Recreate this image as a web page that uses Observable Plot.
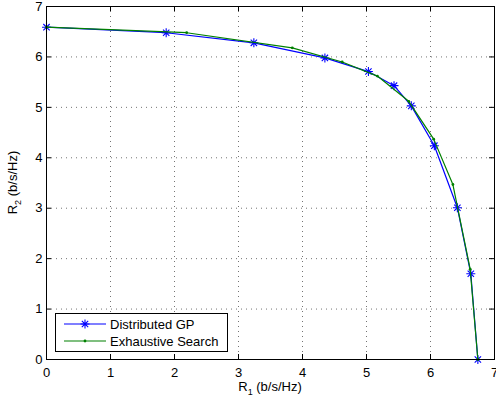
<!DOCTYPE html>
<html>
<head>
<meta charset="utf-8">
<script src="https://cdn.jsdelivr.net/npm/d3@7"></script>
<script src="https://cdn.jsdelivr.net/npm/@observablehq/plot@0.6"></script>
<style>
  html, body { margin: 0; padding: 0; background: #fff; }
  #chart { width: 496px; height: 402px; }
</style>
</head>
<body>
<div id="chart"></div>
<script>
// Distributed GP (blue, asterisks)
const gpR1 = [0, 1.87, 3.24, 4.35, 5.03, 5.43, 5.70, 6.06, 6.42, 6.63, 6.74];
const gpR2 = [6.59, 6.48, 6.28, 5.98, 5.71, 5.43, 5.03, 4.24, 3.01, 1.70, 0];
// Exhaustive Search (green, dots)
const exR1 = [0, 2.19, 3.84, 4.62, 5.17, 5.66, 6.05, 6.35, 6.62, 6.74];
const exR2 = [6.59, 6.48, 6.18, 5.90, 5.62, 5.12, 4.37, 3.47, 1.79, 0];

const xTicks = [0, 1, 2, 3, 4, 5, 6, 7];
const yTicks = [0, 1, 2, 3, 4, 5, 6, 7];
const seriesNames = ["Distributed GP", "Exhaustive Search"];

const gp = gpR1.map((x, i) => ({x, y: gpR2[i]}));
const ex = exR1.map((x, i) => ({x, y: exR2[i]}));

const BLUE = "#0000ff", GREEN = "#008000";

// 8-arm asterisk like MATLAB '*'
const asterisk = {
  draw(context, size) {
    const r = Math.sqrt(size / Math.PI);
    const d = r * Math.SQRT1_2;
    context.moveTo(-r, 0); context.lineTo(r, 0);
    context.moveTo(0, -r); context.lineTo(0, r);
    context.moveTo(-d, -d); context.lineTo(d, d);
    context.moveTo(-d, d); context.lineTo(d, -d);
  }
};

const W = 496, H = 402;
const mL = 46, mR = 2, mT = 6, mB = 43;
const fw = W - mL - mR, fh = H - mT - mB, tick = 5;

const chart = Plot.plot({
  width: W, height: H,
  marginLeft: mL, marginRight: mR, marginTop: mT, marginBottom: mB,
  style: {fontFamily: "'Liberation Sans', Arial, Helvetica, sans-serif", fontSize: "13px", background: "white", color: "black"},
  x: {domain: [0, 7]},
  y: {domain: [0, 7]},
  marks: [
    Plot.gridX(xTicks.slice(1, -1), {stroke: "#000", strokeOpacity: 0.55, strokeDasharray: "1,4"}),
    Plot.gridY(yTicks.slice(1, -1), {stroke: "#000", strokeOpacity: 0.55, strokeDasharray: "1,4"}),
    // inward ticks on all four sides
    Plot.ruleX(xTicks, {x: d => d, insetTop: fh - tick, stroke: "#000"}),
    Plot.ruleX(xTicks, {x: d => d, insetBottom: fh - tick, stroke: "#000"}),
    Plot.ruleY(yTicks, {y: d => d, insetRight: fw - tick, stroke: "#000"}),
    Plot.ruleY(yTicks, {y: d => d, insetLeft: fw - tick, stroke: "#000"}),
    Plot.axisX(xTicks, {tickSize: 0, tickPadding: 8, label: null, fontSize: 13, tickFormat: d => String(d)}),
    Plot.axisY(yTicks, {tickSize: 0, tickPadding: 4, label: null, fontSize: 13, tickFormat: d => String(d)}),
    Plot.line(gp, {x: "x", y: "y", stroke: BLUE, strokeWidth: 1.2}),
    Plot.dot(gp, {x: "x", y: "y", symbol: asterisk, r: 4.5, stroke: BLUE, fill: "none", strokeWidth: 1.1}),
    Plot.line(ex, {x: "x", y: "y", stroke: GREEN, strokeWidth: 1.2}),
    Plot.dot(ex, {x: "x", y: "y", r: 1.4, fill: GREEN, stroke: "none"}),
    Plot.frame({stroke: "#000", strokeWidth: 1})
  ]
});
document.getElementById("chart").appendChild(chart);

const svg = d3.select(chart);
const font = "'Liberation Sans', Arial, Helvetica, sans-serif";

// x axis label: R_1 (b/s/Hz)
const xl = svg.append("text")
  .attr("x", mL + fw / 2).attr("y", 391)
  .attr("text-anchor", "middle")
  .attr("font-family", font).attr("font-size", 13).attr("fill", "#000");
xl.append("tspan").text("R");
xl.append("tspan").attr("font-size", 9).attr("dy", 4).text("1");
xl.append("tspan").attr("dy", -4).text(" (b/s/Hz)");

// y axis label: R_2 (b/s/Hz)
const yl = svg.append("text")
  .attr("transform", `translate(17,${mT + fh / 2}) rotate(-90)`)
  .attr("text-anchor", "middle")
  .attr("font-family", font).attr("font-size", 13).attr("fill", "#000");
yl.append("tspan").text("R");
yl.append("tspan").attr("font-size", 9).attr("dy", 4).text("2");
yl.append("tspan").attr("dy", -4).text(" (b/s/Hz)");

// legend box inside lower-left of axes
const lg = svg.append("g").attr("font-family", font).attr("font-size", 13).attr("text-anchor", "start");
lg.append("rect").attr("x", 55.5).attr("y", 313.5).attr("width", 172).attr("height", 38)
  .attr("fill", "#fff").attr("stroke", "#000").attr("stroke-width", 1);
const rows = [
  {name: seriesNames[0], color: BLUE, y: 324, marker: "star"},
  {name: seriesNames[1], color: GREEN, y: 341, marker: "dot"}
];
rows.forEach(r => {
  lg.append("line").attr("x1", 64).attr("x2", 106).attr("y1", r.y).attr("y2", r.y)
    .attr("stroke", r.color).attr("stroke-width", 1.2);
  if (r.marker === "star") {
    const p = d3.path(); asterisk.draw(p, Math.PI * 4.5 * 4.5);
    lg.append("path").attr("d", p.toString()).attr("transform", `translate(85,${r.y})`)
      .attr("stroke", r.color).attr("fill", "none").attr("stroke-width", 1.1);
  } else {
    lg.append("circle").attr("cx", 85).attr("cy", r.y).attr("r", 1.4).attr("fill", r.color);
  }
  lg.append("text").attr("x", 110).attr("y", r.y).attr("dy", "0.35em")
    .attr("text-anchor", "start").attr("fill", "#000").text(r.name);
});
</script>
</body>
</html>
